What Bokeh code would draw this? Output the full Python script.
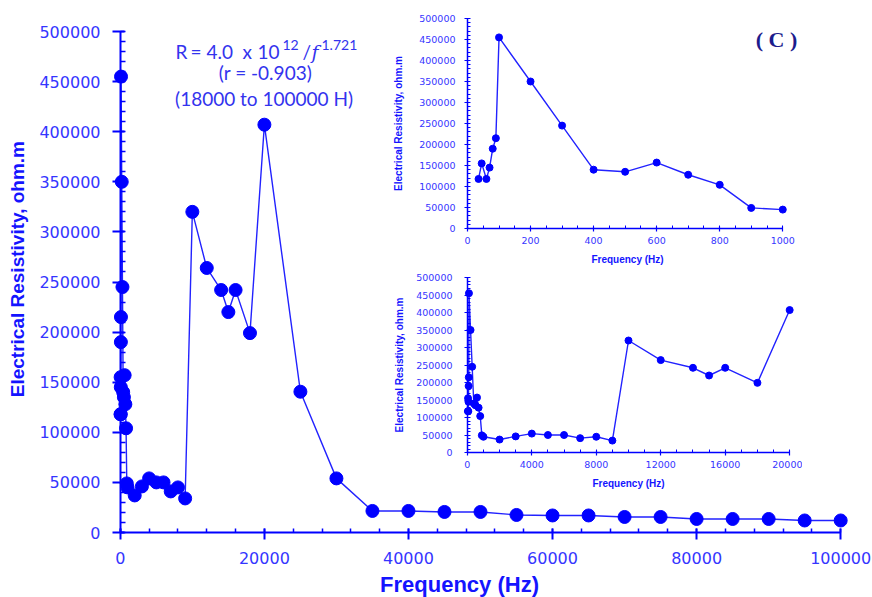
import math
from bokeh.plotting import figure
from bokeh.models import Range1d, SingleIntervalTicker, Label, BasicTickFormatter
from bokeh.embed import file_html
from bokeh.resources import INLINE

# ---- data ----
freq_hz = [35, 45, 60, 70, 80, 90, 100, 200, 300, 400, 500, 600, 700, 800, 900, 1000,
           2000, 3000, 4000, 5000, 6000, 7000, 8000, 9000, 10000, 12000, 14000, 15000,
           16000, 18000, 20000, 25000, 30000, 35000, 40000, 45000, 50000, 55000, 60000,
           65000, 70000, 75000, 80000, 85000, 90000, 95000, 100000]
resistivity = [118000, 155000, 118000, 145000, 190000, 215000, 455000, 350000, 245000,
               140000, 135000, 157000, 128000, 104000, 49000, 45000,
               37000, 46000, 54000, 50000, 50000, 41000, 45000, 34000, 320000, 264000,
               242000, 220000, 242000, 199000, 407000, 140500, 54000, 21500, 21500,
               20500, 20500, 17500, 17000, 17000, 15500, 15500, 13500, 13500, 13500,
               12000, 12000]
inset1_max = 1000
inset2_max = 20000

BLUE = "#0000ff"
TICK_TXT = "#3535ff"
LBL_TXT = "#1414ff"
ANN_TXT = "#3333ee"


def base_fig(**kw):
    f = figure(output_backend="svg", toolbar_location=None, **kw)
    f.grid.visible = False
    f.outline_line_color = None
    if "frame_align" in f.properties():
        f.frame_align = False
    return f


def style_axis(ax, line_w, major_w, minor_w, font_size):
    ax.formatter = BasicTickFormatter(use_scientific=False)
    ax.axis_line_color = BLUE
    ax.axis_line_width = line_w
    ax.major_tick_line_color = BLUE
    ax.major_tick_line_width = major_w
    ax.minor_tick_line_color = BLUE
    ax.minor_tick_line_width = minor_w
    ax.major_label_text_font = "DejaVu Sans"
    ax.major_label_text_font_size = font_size
    ax.major_label_text_color = TICK_TXT
    ax.axis_label_text_font = "Liberation Sans"
    ax.axis_label_text_font_style = "bold"
    ax.axis_label_text_color = LBL_TXT


def yaxis_only(border_left, frame_h, border_top, interval, minor, ticks, fsize,
               standoff, line_w, major_w, minor_w, label=None, label_size=None,
               label_standoff=None):
    f = base_fig(width=border_left + 10, height=border_top + frame_h + 14,
                 x_range=Range1d(0, 1), y_range=Range1d(0, 500000),
                 min_border_left=border_left, min_border_right=8,
                 min_border_top=border_top, min_border_bottom=14,
                 background_fill_alpha=0, border_fill_alpha=0)
    f.xaxis.visible = False
    f.yaxis.ticker = SingleIntervalTicker(interval=interval, num_minor_ticks=minor)
    ax = f.yaxis[0]
    style_axis(ax, line_w, major_w, minor_w, fsize)
    ax.major_tick_in, ax.major_tick_out, ax.minor_tick_in, ax.minor_tick_out = ticks
    ax.major_label_standoff = standoff
    if label:
        ax.axis_label = label
        ax.axis_label_text_font_size = label_size
        ax.axis_label_standoff = label_standoff
    return f


# ---- main figure (page coords == figure coords) ----
p = base_fig(width=872, height=597, x_range=Range1d(-1500, 101500),
             y_range=Range1d(0, 500000),
             min_border_left=109, min_border_right=21, min_border_top=31, min_border_bottom=65)
p.yaxis.visible = False
p.xaxis.ticker = SingleIntervalTicker(interval=20000, num_minor_ticks=5)
p.xaxis.bounds = (0, 100000)
style_axis(p.xaxis[0], 2, 2, 1.5, "16px")
p.xaxis.major_tick_in = 4
p.xaxis.major_tick_out = 7
p.xaxis.minor_tick_in = 4
p.xaxis.minor_tick_out = 0
p.xaxis.major_label_standoff = 12

p.line(freq_hz, resistivity, line_color="#2222ff", line_width=1.4)
p.scatter(freq_hz, resistivity, size=13, fill_color=BLUE, line_color=BLUE)

# y axis of the main chart (overlay sitting at x = 0)
yax_main = yaxis_only(120, 501, 31, 50000, 5, (4, 8, 5, 0), "16px", 12, 2, 2, 1.5)


def inset_base(x_range, border_left, frame_w, frame_h, interval, xmax):
    f = base_fig(width=border_left + frame_w + 8, height=8 + frame_h + 44,
                 x_range=x_range, y_range=Range1d(0, 500000),
                 min_border_left=border_left, min_border_right=8, min_border_top=8,
                 min_border_bottom=44, background_fill_alpha=0, border_fill_alpha=0)
    f.xaxis.ticker = SingleIntervalTicker(interval=interval, num_minor_ticks=4)
    f.xaxis.bounds = (0, xmax)
    ax = f.xaxis[0]
    style_axis(ax, 1.5, 1.2, 1, "9.5px")
    ax.major_tick_in, ax.major_tick_out, ax.minor_tick_in, ax.minor_tick_out = 2, 3, 3, 0
    ax.major_label_standoff = 5
    ax.axis_label = "Frequency (Hz)"
    ax.axis_label_text_font_size = "10px"
    ax.axis_label_standoff = 7
    xs = [x for x in freq_hz if x <= xmax]
    ys = resistivity[:len(xs)]
    f.line(xs, ys, line_color="#2222ff", line_width=1.4)
    f.scatter(xs, ys, size=7, fill_color=BLUE, line_color=BLUE)
    return f


# inset 1 (0-1000 Hz)
in1 = inset_base(Range1d(0, 1015), 87, 320, 210, 200, inset1_max)
in1.yaxis.ticker = SingleIntervalTicker(interval=50000, num_minor_ticks=5)
ay = in1.yaxis[0]
style_axis(ay, 1.5, 1.2, 1, "9.5px")
ay.major_tick_in, ay.major_tick_out, ay.minor_tick_in, ay.minor_tick_out = 2, 3, 3, 0
ay.major_label_standoff = 9
ay.axis_label = "Electrical Resistivity, ohm.m"
ay.axis_label_text_font_size = "10px"
ay.axis_label_standoff = 12

# inset 2 (0-20000 Hz)
in2 = inset_base(Range1d(-300, 20300), 82, 332, 175, 4000, inset2_max)
in2.yaxis.visible = False
yax_in2 = yaxis_only(87, 175, 8, 50000, 5, (2, 3, 3, 0), "9.5px", 12, 1.5, 1.2, 1,
                     label="Electrical Resistivity, ohm.m", label_size="10px",
                     label_standoff=8)

# ---- text overlay in page pixel coordinates ----
txt = base_fig(width=872, height=597, x_range=Range1d(0, 872), y_range=Range1d(597, 0),
               min_border=0, min_border_left=0, min_border_right=0, min_border_top=0,
               min_border_bottom=0, background_fill_alpha=0, border_fill_alpha=0)
txt.xaxis.visible = False
txt.yaxis.visible = False


def lab(x, y, text, size, align="left", baseline="alphabetic", font="Lato",
        style="normal", color=ANN_TXT, angle=0):
    txt.add_layout(Label(x=x, y=y, text=text, text_align=align, text_baseline=baseline,
                         text_font=font, text_font_style=style, text_font_size=size,
                         text_color=color, angle=angle))


lab(459, 584, "Frequency (Hz)", "22px", align="center", baseline="middle",
    font="Liberation Sans", style="bold", color=LBL_TXT)
lab(17, 266, "Electrical Resistivity,  ohm.m", "19px", align="center",
    baseline="middle", font="Liberation Sans", style="bold", color=LBL_TXT, angle=math.pi / 2)

for x0, piece in [(175, "R"), (190, "="), (206, "4.0"), (242, "x"), (257, "10")]:
    lab(x0, 51, piece, "19px")
lab(282, 44, "12", "14px")
lab(302, 51, "/", "19px")
lab(311, 51, "f", "19px", font="DejaVu Serif", style="italic")
lab(321, 44, "1.721", "14px")
lab(265, 72, "(r = -0.903)", "19px", align="center", baseline="middle")
lab(266, 98, "(18000 to 100000  H)", "19px", align="center", baseline="middle")
lab(776, 39, "( C )", "22px", align="center", baseline="middle",
    font="Liberation Serif", style="bold", color="#1c1c8c")

yax_main.styles = {"position": "absolute", "left": "0px", "top": "0px"}
in1.styles = {"position": "absolute", "left": "380px", "top": "10px"}
in2.styles = {"position": "absolute", "left": "380px", "top": "269px"}
yax_in2.styles = {"position": "absolute", "left": "380px", "top": "269px"}
txt.styles = {"position": "absolute", "left": "0px", "top": "0px"}

open("out.html", "w").write(file_html([p, yax_main, in1, in2, yax_in2, txt], INLINE))
